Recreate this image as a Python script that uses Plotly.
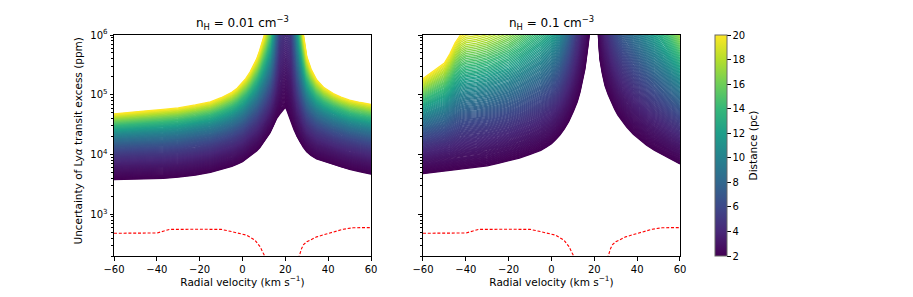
import numpy as np
import plotly.graph_objects as go
from plotly.colors import sample_colorscale

# ---------------- data ----------------
distances = np.geomspace(2, 20, 130)          # pc, colour axis of the curve family

# n_H = 0.01 cm^-3 : radial velocity samples and log10(uncertainty / ppm)
v_left = [-60, -52, -45, -37, -30, -22, -15, -10, -7.5, -5, -2.5, 0, 1.5, 3.5, 5, 6.6, 8,
          9, 10.5, 12.8, 14.4, 15.9, 17.5, 18.5, 19.3, 20, 20.7, 21.5, 22.5, 24, 25.5, 27,
          28.4, 30, 32, 34.6, 38, 42.4, 46, 50, 55, 60]
logU_left_2pc = [3.58, 3.585, 3.59, 3.60, 3.62, 3.655, 3.70, 3.745, 3.77, 3.80, 3.84, 3.88,
                 3.92, 3.97, 4.015, 4.06, 4.11, 4.16, 4.23, 4.36, 4.48, 4.60, 4.68, 4.73,
                 4.76, 4.79, 4.74, 4.66, 4.56, 4.42, 4.30, 4.20, 4.12, 4.045, 3.985, 3.925,
                 3.885, 3.83, 3.79, 3.75, 3.71, 3.67]
logU_left_20pc = [4.68, 4.70, 4.73, 4.755, 4.78, 4.83, 4.88, 4.95, 4.99, 5.04, 5.11, 5.20,
                  5.27, 5.38, 5.48, 5.60, 5.74, 5.85, 6.04, 6.39, 7.01, 8.30, 11.08, 11.67,
                  12.06, 12.27, 12.22, 12.14, 12.04, 9.02, 7.28, 6.51, 6.02, 5.64, 5.43,
                  5.25, 5.12, 5.02, 4.96, 4.91, 4.87, 4.84]

# n_H = 0.1 cm^-3
v_right = [-60, -55, -50, -47.5, -45, -42.5, -40, -35, -30, -25, -20, -15, -10, -5, -2.5,
           0, 2, 4, 6, 8, 10.2, 12, 13.3, 15.6, 17.2, 18, 19, 20, 21, 21.9, 22.6, 23.7, 25,
           26.5, 28, 29.5, 31, 33, 35.1, 38.2, 41, 44.4, 48, 52.2, 56, 60]
logU_right_2pc = [3.68, 3.70, 3.72, 3.73, 3.74, 3.75, 3.76, 3.78, 3.81, 3.85, 3.89, 3.94,
                  4.00, 4.07, 4.12, 4.18, 4.25, 4.33, 4.43, 4.55, 4.72, 4.88, 5.04, 5.43,
                  5.86, 6.08, 6.5, 6.8, 6.5, 6.02, 5.59, 5.36, 5.15, 5.00, 4.87, 4.76,
                  4.66, 4.555, 4.46, 4.34, 4.25, 4.155, 4.07, 3.985, 3.91, 3.84]
logU_right_20pc = [5.27, 5.40, 5.53, 5.68, 5.87, 6.00, 6.06, 6.09, 6.14, 6.22, 6.31, 6.45,
                   6.62, 6.80, 6.92, 7.03, 7.18, 7.35, 7.73, 8.25, 9.32, 10.56, 11.98,
                   13.63, 15.86, 16.08, 16.5, 16.8, 16.5, 16.02, 15.59, 13.2, 11.55, 10.5,
                   9.74, 9.27, 8.94, 8.65, 8.43, 8.13, 7.84, 7.50, 7.18, 6.84, 6.57, 6.28]

# red dashed signal curve (ppm), two branches
v_signal_a = [-60, -50, -40, -37, -34, -20, -10, -5.8, -2, 1.95, 5.8, 8.2, 9.7, 10.5, 11]
signal_a_ppm = [481, 482, 485, 520, 558, 560, 558, 519, 482, 446, 369, 286, 222, 195, 150]
v_signal_b = [26, 26.5, 27.6, 28.5, 30, 34.6, 40.8, 47, 51.7, 60]
signal_b_ppm = [150, 200, 268, 310, 346, 418, 486, 560, 595, 598]

panel_titles = ["n<sub>H</sub> = 0.01 cm<sup>−3</sup>", "n<sub>H</sub> = 0.1 cm<sup>−3</sup>"]
x_ticks = [-60, -40, -20, 0, 20, 40, 60]
x_ticktext = ["−60", "−40", "−20", "0", "20", "40", "60"]
y_ticks = [1e3, 1e4, 1e5, 1e6]
y_ticktext = ["10<sup>3</sup>", "10<sup>4</sup>", "10<sup>5</sup>", "10<sup>6</sup>"]
cbar_ticks = [2, 4, 6, 8, 10, 12, 14, 16, 18, 20]

# ---------------- figure ----------------
FONT = "DejaVu Sans"
fig = go.Figure()

tfrac = (distances - 2) / (20 - 2)
colors = sample_colorscale("Viridis", list(tfrac))

panels = [
    ("x", "y", v_left, logU_left_2pc, logU_left_20pc),
    ("x2", "y2", v_right, logU_right_2pc, logU_right_20pc),
]
for xa, ya, vv, l2, l20 in panels:
    l2 = np.array(l2)
    l20 = np.array(l20)
    slope = (l20 - l2 - np.log10(20 / 2)) / (20 - 2)
    for d, c in zip(distances, colors):
        logU = l2 + np.log10(d / 2) + slope * (d - 2)
        fig.add_trace(go.Scatter(x=vv, y=10 ** logU, mode="lines", xaxis=xa, yaxis=ya,
                                 line=dict(color=c, width=1.3), showlegend=False,
                                 hoverinfo="skip"))
    for vs, ss in ((v_signal_a, signal_a_ppm), (v_signal_b, signal_b_ppm)):
        fig.add_trace(go.Scatter(x=vs, y=ss, mode="lines", xaxis=xa, yaxis=ya,
                                 line=dict(color="red", width=1.1, dash="3px,1.8px"),
                                 showlegend=False, hoverinfo="skip"))

# colorbar carrier
fig.add_trace(go.Scatter(
    x=[-1000, -1000], y=[1, 1], mode="markers", xaxis="x", yaxis="y", showlegend=False,
    hoverinfo="skip",
    marker=dict(size=1, color=[2, 20], cmin=2, cmax=20, colorscale="Viridis",
                showscale=True,
                colorbar=dict(x=1.062, xanchor="left", xpad=0, ypad=0, y=0.5,
                              yanchor="middle", len=1.0, lenmode="fraction", thickness=12,
                              outlinewidth=1, outlinecolor="#666",
                              tickvals=cbar_ticks, ticks="outside", ticklen=3.5,
                              tickcolor="black", tickfont=dict(size=10, color="black"),
                              title=dict(text="Distance (pc)", side="right",
                                         font=dict(size=10.5, color="black"))))))

minor_vals = [m * 10 ** e for e in range(2, 6) for m in range(2, 10)]
axis_common = dict(showline=True, linecolor="black", linewidth=1, mirror=True,
                   showgrid=False, zeroline=False, ticks="outside", ticklen=3.5,
                   tickcolor="black", tickfont=dict(family=FONT, size=10, color="black"))
xcommon = dict(axis_common, range=[-60, 60], tickvals=x_ticks, ticktext=x_ticktext,
               title=dict(text="Radial velocity (km s<sup>−1</sup>)", standoff=3,
                          font=dict(size=10.5, color="black")))
ycommon = dict(axis_common, type="log", range=[np.log10(200), 6], tickvals=y_ticks,
               ticktext=y_ticktext,
               minor=dict(ticks="outside", ticklen=2, tickcolor="black",
                          tickvals=minor_vals, showgrid=False))

# page body adds an 8px offset, so the figure is 8px smaller and margins shifted
fig.update_layout(
    width=905, height=289,
    margin=dict(l=106, r=233, t=27, b=38),
    paper_bgcolor="white", plot_bgcolor="white",
    font=dict(family=FONT, size=10, color="black"),
    xaxis=dict(xcommon, domain=[0, 0.4541], anchor="y"),
    xaxis2=dict(xcommon, domain=[0.5459, 1], anchor="y2"),
    yaxis=dict(ycommon, anchor="x", domain=[0, 1]),
    yaxis2=dict(ycommon, anchor="x2", domain=[0, 1], showticklabels=False),
    annotations=[
        dict(text=panel_titles[0], x=0.2270, y=1.0, xref="paper", yref="paper",
             xanchor="center", yanchor="bottom", yshift=1, showarrow=False,
             font=dict(size=12, color="black")),
        dict(text=panel_titles[1], x=0.7730, y=1.0, xref="paper", yref="paper",
             xanchor="center", yanchor="bottom", yshift=1, showarrow=False,
             font=dict(size=12, color="black")),
        dict(text="Uncertainty of Ly<i>α</i> transit excess (ppm)", x=-0.0636, y=0.518,
             xref="paper", yref="paper", xanchor="center", yanchor="middle",
             textangle=-90, showarrow=False, font=dict(size=10.5, color="black")),
    ],
)

fig.write_html("out.html")
